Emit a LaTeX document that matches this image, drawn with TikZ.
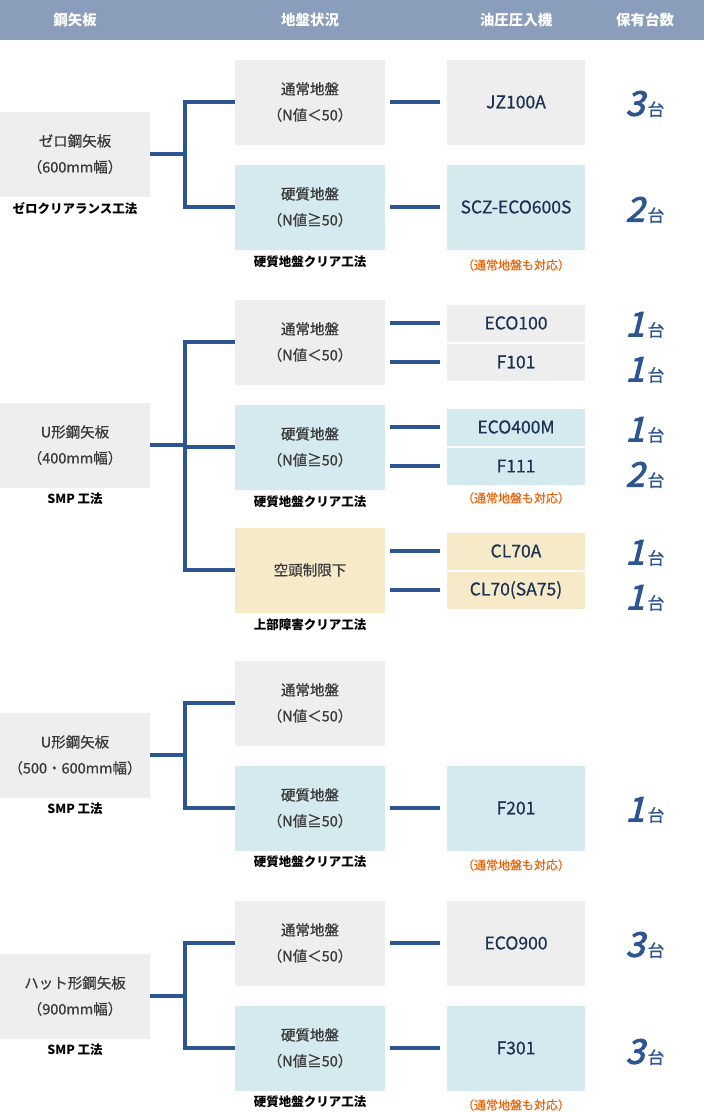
\documentclass[tikz,border=0pt]{standalone}
\usepackage{fontspec}
\setmainfont{Noto Sans CJK JP}
\newfontfamily\numfont[FakeSlant=0.25,FakeBold=3]{Noto Sans CJK JP}
\newfontfamily\medfont[FakeBold=0.7]{Noto Sans CJK JP}
\usetikzlibrary{positioning}
\definecolor{headblue}{HTML}{8A9DBA}
\definecolor{linkblue}{HTML}{2C5592}
\definecolor{boxgray}{HTML}{EEEEEE}
\definecolor{boxblue}{HTML}{D5EAEF}
\definecolor{boxbeige}{HTML}{F6EAC9}
\definecolor{txt}{HTML}{3A3A3A}
\definecolor{navy}{HTML}{1E3354}
\definecolor{noteorange}{HTML}{E8650E}
\tikzset{
    pile/.style={fill=boxgray,minimum width=150pt,minimum height=85pt,align=center,text=txt,font=\medfont\fontsize{14.5}{26}\selectfont},
    ground/.style={minimum width=150pt,minimum height=85pt,align=center,text=txt,font=\medfont\fontsize{14.5}{26}\selectfont},
    soft/.style={ground,fill=boxgray},
    hard/.style={ground,fill=boxblue},
    low/.style={ground,fill=boxbeige},
    machine/.style={minimum width=138pt,minimum height=85pt,text=navy,font=\medfont\fontsize{17.5}{20}\selectfont},
    half/.style={machine,minimum height=37pt},
    method/.style={text=black,font=\fontsize{12.5}{14}\bfseries\selectfont},
    note/.style={text=noteorange,font=\medfont\fontsize{12}{14}\selectfont},
    count/.style={inner sep=0pt},
    link/.style={draw=linkblue,line width=4pt},
    head/.style={text=white,font=\fontsize{14.5}{16}\bfseries\selectfont},
}
\newcommand{\units}[1]{{\color{linkblue}\numfont\fontsize{34}{34}\selectfont #1\kern3pt\medfont\fontsize{17}{17}\selectfont 台}}
\begin{document}
\begin{tikzpicture}[x=1pt,y=-1pt]
\useasboundingbox (0,0) rectangle (704,1112);
\fill[headblue] (0,0) rectangle (704,40);
\node[head] (h1) at (75,20) {鋼矢板};
\node[head] (h2) at (310,20) {地盤状況};
\node[head] (h3) at (516,20) {油圧圧入機};
\node[head] (h4) at (645,20) {保有台数};

% zero pile
\node[pile] (z) at (75,154) {ゼロ鋼矢板\\（600mm幅）};
\node[method] (zm) at (75,209) {ゼロクリアランス工法};
\node[soft] (z1) at (310,102) {通常地盤\\（N値＜50）};
\node[hard] (z2) at (310,207) {硬質地盤\\（N値≧50）};
\node[method] (z2m) at (310,262) {硬質地盤クリア工法};
\node[machine,fill=boxgray] (za) at (516,102) {JZ100A};
\node[machine,fill=boxblue] (zb) at (516,207) {SCZ-ECO600S};
\node[note] (zn) at (516,265) {（通常地盤も対応）};
\node[count] (zc1) at (645,104) {\units{3}};
\node[count] (zc2) at (645,210) {\units{2}};
\draw[link] (z.east) -- (185,154) |- (z1.west);
\draw[link] (185,154) |- (z2.west);
\draw[link,shorten <=5pt,shorten >=7pt] (z1.east) -- (za.west);
\draw[link,shorten <=5pt,shorten >=7pt] (z2.east) -- (zb.west);

% U pile 400
\node[pile] (u) at (75,445) {U形鋼矢板\\（400mm幅）};
\node[method] (um) at (75,499) {SMP 工法};
\node[soft] (u1) at (310,342) {通常地盤\\（N値＜50）};
\node[hard] (u2) at (310,447) {硬質地盤\\（N値≧50）};
\node[method] (u2m) at (310,502) {硬質地盤クリア工法};
\node[low] (u3) at (310,570) {空頭制限下};
\node[method] (u3m) at (310,625) {上部障害クリア工法};
\node[half,fill=boxgray] (ua) at (516,323) {ECO100};
\node[half,fill=boxgray] (ub) at (516,362) {F101};
\node[half,fill=boxblue] (uc) at (516,427) {ECO400M};
\node[half,fill=boxblue] (ud) at (516,466) {F111};
\node[note] (un) at (516,498) {（通常地盤も対応）};
\node[half,fill=boxbeige] (ue) at (516,551) {CL70A};
\node[half,fill=boxbeige] (uf) at (516,590) {CL70(SA75)};
\node[count] (uc1) at (645,325) {\units{1}};
\node[count] (uc2) at (645,370) {\units{1}};
\node[count] (uc3) at (645,430) {\units{1}};
\node[count] (uc4) at (645,475) {\units{2}};
\node[count] (uc5) at (645,553) {\units{1}};
\node[count] (uc6) at (645,598) {\units{1}};
\draw[link] (u.east) -- (185,445);
\draw[link] (u1.west) -| (185,570) -- (u3.west);
\draw[link] (185,447) -- (u2.west);
\foreach \m/\r in {u1/ua,u1/ub,u2/uc,u2/ud,u3/ue,u3/uf}
  \draw[link] ([xshift=5pt]\r.west -| \m.east) -- ([xshift=-7pt]\r.west);

% U pile 500/600
\node[pile] (w) at (75,755) {U形鋼矢板\\（500・600mm幅）};
\node[method] (wm) at (75,809) {SMP 工法};
\node[soft] (w1) at (310,703) {通常地盤\\（N値＜50）};
\node[hard] (w2) at (310,808) {硬質地盤\\（N値≧50）};
\node[method] (w2m) at (310,862) {硬質地盤クリア工法};
\node[machine,fill=boxblue] (wa) at (516,808) {F201};
\node[note] (wn) at (516,865) {（通常地盤も対応）};
\node[count] (wc1) at (645,810) {\units{1}};
\draw[link] (w.east) -- (185,755) |- (w1.west);
\draw[link] (185,755) |- (w2.west);
\draw[link,shorten <=5pt,shorten >=7pt] (w2.east) -- (wa.west);

% hat pile
\node[pile] (t) at (75,996) {ハット形鋼矢板\\（900mm幅）};
\node[method] (tm) at (75,1050) {SMP 工法};
\node[soft] (t1) at (310,943) {通常地盤\\（N値＜50）};
\node[hard] (t2) at (310,1048) {硬質地盤\\（N値≧50）};
\node[method] (t2m) at (310,1102) {硬質地盤クリア工法};
\node[machine,fill=boxgray] (ta) at (516,943) {ECO900};
\node[machine,fill=boxblue] (tb) at (516,1048) {F301};
\node[note] (tn) at (516,1105) {（通常地盤も対応）};
\node[count] (tc1) at (645,945) {\units{3}};
\node[count] (tc2) at (645,1052) {\units{3}};
\draw[link] (t.east) -- (185,996) |- (t1.west);
\draw[link] (185,996) |- (t2.west);
\draw[link,shorten <=5pt,shorten >=7pt] (t1.east) -- (ta.west);
\draw[link,shorten <=5pt,shorten >=7pt] (t2.east) -- (tb.west);
\end{tikzpicture}
\end{document}
